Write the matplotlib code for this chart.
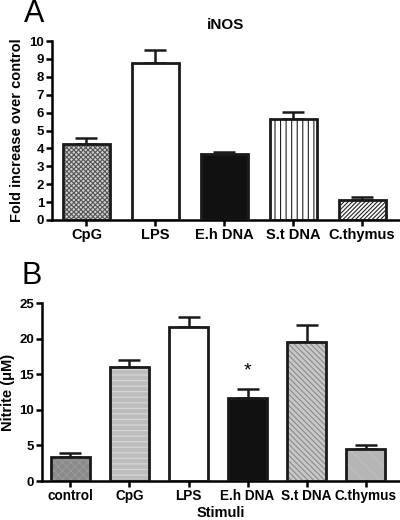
import matplotlib
matplotlib.use("Agg")
import matplotlib.pyplot as plt
import numpy as np

plt.rcParams['font.family'] = ['Liberation Sans', 'DejaVu Sans']
plt.rcParams['font.weight'] = 'bold'
plt.rcParams['hatch.linewidth'] = 0.8

# panel A: iNOS fold increase
labels_a = ['CpG', 'LPS', 'E.h DNA', 'S.t DNA', 'C.thymus']
inos = [4.22, 8.8, 3.7, 5.65, 1.14]
inos_err = [0.36, 0.72, 0.11, 0.37, 0.12]

# panel B: nitrite
labels_b = ['control', 'CpG', 'LPS', 'E.h DNA', 'S.t DNA', 'C.thymus']
nitrite = [3.4, 16.0, 21.6, 11.6, 19.6, 4.45]
nitrite_err = [0.55, 1.0, 1.4, 1.4, 2.4, 0.55]

fig = plt.figure(figsize=(4, 5.2), dpi=100)


def style_axes(ax, xsize):
    for s in ['top', 'right']:
        ax.spines[s].set_visible(False)
    for s in ['left', 'bottom']:
        ax.spines[s].set_linewidth(1.8)
    ax.tick_params(width=1.8, length=4, labelsize=9.5, pad=1.5)
    ax.tick_params(axis='x', labelsize=xsize, pad=2)
    for t in ax.get_xticklabels() + ax.get_yticklabels():
        t.set_fontweight('bold')


def draw_bars(ax, vals, errs, faces, hatches, hatch_cols, width):
    x = np.arange(len(vals))
    for i in range(len(vals)):
        ax.bar(x[i], vals[i], width=width, color=faces[i], edgecolor=hatch_cols[i],
               hatch=hatches[i], linewidth=0, zorder=2)
        ax.bar(x[i], vals[i], width=width, color='none', edgecolor='#1a1a1a',
               linewidth=2.0, zorder=3)
        ax.errorbar(x[i], vals[i], yerr=[[0], [errs[i]]], fmt='none', ecolor='#1a1a1a',
                    elinewidth=1.8, capsize=8, capthick=1.8, zorder=1)
    return x


# ---- A ----
axA = fig.add_axes([0.13, 0.577, 0.87, 0.344])
xa = draw_bars(axA, inos, inos_err,
               ['#d0d0d0', 'white', '#111111', 'white', 'white'],
               ['xxxxxxx', None, None, '|||', '////////'],
               ['#555555', 'black', 'black', '#222222', '#222222'], 0.68)
axA.set_xlim(-0.5, 4.55)
axA.set_ylim(0, 10)
axA.set_yticks(range(0, 11))
axA.set_xticks(xa)
axA.set_xticklabels(labels_a)
axA.set_ylabel('Fold increase over control', fontsize=10.5, fontweight='bold', labelpad=4)
axA.set_title('iNOS', fontsize=11, fontweight='bold', pad=9, x=0.5)
style_axes(axA, 10.5)
fig.text(0.06, 0.973, 'A', fontsize=22, fontweight='normal', va='center')

# ---- B ----
axB = fig.add_axes([0.105, 0.075, 0.895, 0.342])
xb = draw_bars(axB, nitrite, nitrite_err,
               ['#8a8a8a', '#bdbdbd', 'white', '#111111', '#c8c8c8', '#b5b5b5'],
               ['xxxx', '---', None, None, '\\\\\\\\\\\\', '\\\\'],
               ['#9a9a9a', '#d8d8d8', 'black', 'black', '#8a8a8a', '#c0c0c0'], 0.66)
axB.set_xlim(-0.48, 5.58)
axB.set_ylim(0, 25)
axB.set_yticks([0, 5, 10, 15, 20, 25])
axB.set_xticks(xb)
axB.set_xticklabels(labels_b)
axB.set_ylabel('Nitrite (\u03bcM)', fontsize=10.5, fontweight='bold', labelpad=3)
axB.set_xlabel('Stimuli', fontsize=10.5, fontweight='bold', labelpad=2)
axB.text(xb[3], nitrite[3] + nitrite_err[3] + 1.3, '*', ha='center', va='bottom',
         fontsize=14, fontweight='normal')
style_axes(axB, 9.8)
fig.text(0.055, 0.469, 'B', fontsize=22, fontweight='normal', va='center')

fig.savefig('out.png', dpi=100)
